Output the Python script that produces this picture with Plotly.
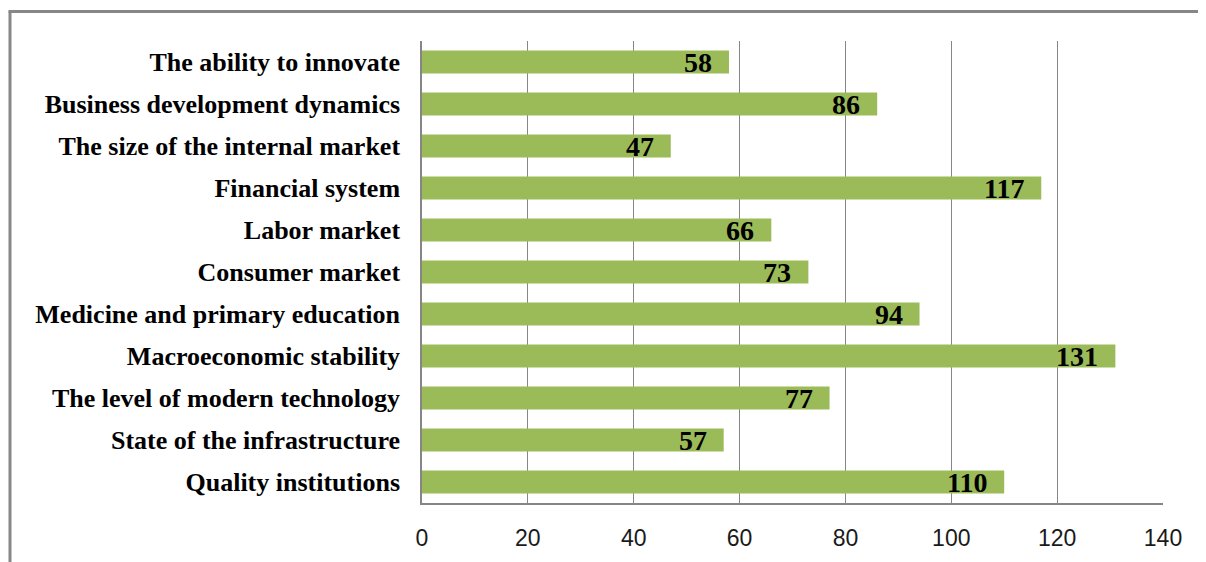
import plotly.graph_objects as go

categories = [
    "Quality institutions",
    "State of the infrastructure",
    "The level of modern technology",
    "Macroeconomic stability",
    "Medicine and primary education",
    "Consumer market",
    "Labor market",
    "Financial system",
    "The size of the internal market",
    "Business development dynamics",
    "The ability to innovate",
]
values = [110, 57, 77, 131, 94, 73, 66, 117, 47, 86, 58]
x_ticks = [0, 20, 40, 60, 80, 100, 120, 140]

W, H = 1206, 562
L, R, T, B = 414, 51, 33, 67
pw, ph = W - L - R, H - T - B

fig = go.Figure()
fig.add_trace(go.Bar(
    y=categories, x=values, orientation="h",
    marker=dict(color="#9BBB59", line=dict(width=0)),
    hoverinfo="x+y",
))

for c, v in zip(categories, values):
    fig.add_annotation(
        x=v, y=c, text=str(v), showarrow=False, xanchor="right", yanchor="middle",
        xshift=-15, yshift=0,
        font=dict(family="Liberation Serif", size=28, color="#000000", weight="bold"),
    )

# outer frame (top and left edges)
fx = (2 - L) / pw
fy_top = (T + ph - 3.5) / ph
fy_bot = (T + ph - 700) / ph
fig.add_shape(type="line", xref="paper", yref="paper", x0=fx, x1=fx, y0=fy_bot, y1=fy_top,
              line=dict(color="#878787", width=3))
fig.add_shape(type="line", xref="paper", yref="paper", x0=fx - 0.002, x1=(1400 - L) / pw, y0=fy_top, y1=fy_top,
              line=dict(color="#878787", width=3))

fig.update_layout(
    width=W, height=H,
    margin=dict(l=L, r=R, t=T, b=B, pad=0),
    paper_bgcolor="white", plot_bgcolor="white",
    bargap=0.45,
    showlegend=False,
    xaxis=dict(
        range=[0, 140], tickvals=x_ticks, ticktext=[str(t) for t in x_ticks],
        showgrid=True, gridcolor="#868686", gridwidth=1.3,
        zeroline=False, showline=True, linecolor="#868686", linewidth=2,
        ticks="", tickfont=dict(family="Liberation Sans", size=23, color="#1a1a1a"),
        ticklabelstandoff=13,
    ),
    yaxis=dict(
        showgrid=False, zeroline=False, showline=True, linecolor="#868686", linewidth=1.5,
        ticks="", tickfont=dict(family="Liberation Serif", size=26, color="#000000", weight="bold"),
        ticklabelstandoff=15,
    ),
)

fig.write_html("out.html")
